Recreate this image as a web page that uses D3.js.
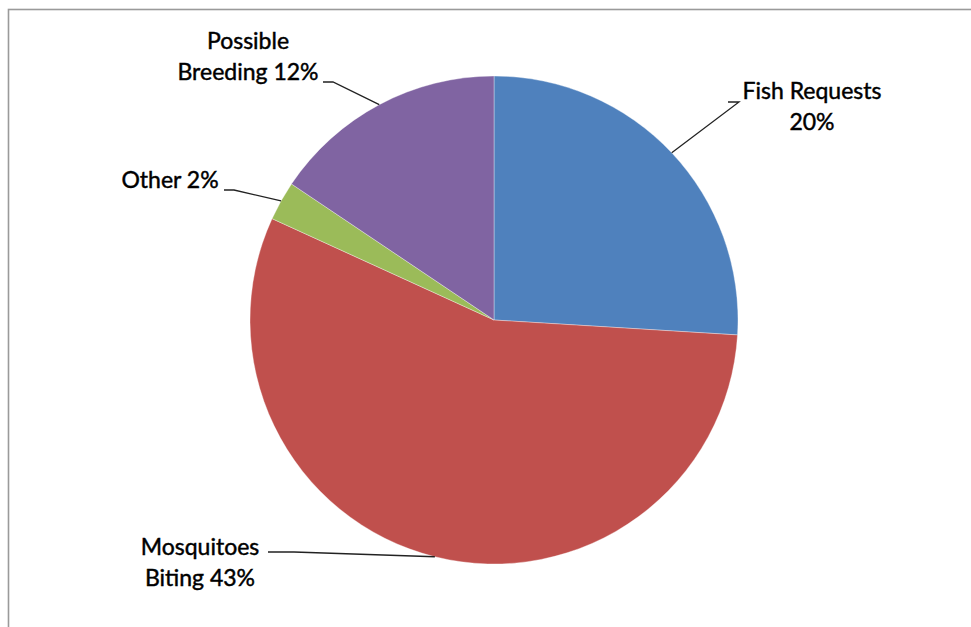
<!DOCTYPE html>
<html>
<head>
<meta charset="utf-8">
<script src="https://cdn.jsdelivr.net/npm/d3@7"></script>
<style>
  body { margin: 0; background: #fff; }
  text { font-family: Lato, "Open Sans", sans-serif; fill: #000; stroke: #000; stroke-width: 0.45px; }
</style>
</head>
<body>
<svg id="chart" width="971" height="627"></svg>
<script>
// values (the pie normalises them)
var categories = ['Fish Requests', 'Mosquitoes Biting', 'Other', 'Possible Breeding'];
var values = [20, 43, 2, 12];
var colors = ['#4f81bd', '#c0504d', '#9bbb59', '#8064a2'];
// label text, split in lines as in the picture
var labelLines = [
  ['Fish Requests', '20%'],
  ['Mosquitoes', 'Biting 43%'],
  ['Other 2%'],
  ['Possible', 'Breeding 12%']
];

var svg = d3.select('#chart');
var width = +svg.attr('width');
var height = +svg.attr('height');

var cx = 494, cy = 320, radius = 244;

// frame of the chart area
svg.append('rect')
  .attr('x', 8.5).attr('y', 9.5)
  .attr('width', width + 20).attr('height', height + 20)
  .attr('fill', '#fff')
  .attr('stroke', '#9a9a9a')
  .attr('stroke-width', 1.6);

var data = categories.map(function(c, i) {
  return {name: c, value: values[i], color: colors[i], lines: labelLines[i]};
});

var pie = d3.pie()
  .sort(null)
  .value(function(d) { return d.value; });

var arc = d3.arc().innerRadius(0).outerRadius(radius);

var arcs = pie(data);

var g = svg.append('g').attr('transform', 'translate(' + cx + ',' + cy + ')');

g.selectAll('.slice')
  .data(arcs)
  .enter().append('path')
  .attr('class', 'slice')
  .attr('d', arc)
  .attr('fill', function(d) { return d.data.color; })
  .attr('stroke', 'rgba(255,255,255,0.35)')
  .attr('stroke-width', 1);

// label placement: text anchor point (relative to pie centre), line-height,
// and the elbow of the leader line
var labelPos = [
  {tx: 318, ty: -221, elbow: [245, -218], end: [234, -218], anchor: 'middle'},
  {tx: -294, ty: 235, elbow: [-200, 232], end: [-226, 232], anchor: 'middle'},
  {tx: -324, ty: -132, elbow: [-260, -130], end: [-270, -130], anchor: 'middle'},
  {tx: -246, ty: -271, elbow: [-161, -238], end: [-171, -238], anchor: 'middle'}
];

var lineHeight = 31;

arcs.forEach(function(d, i) {
  var p = labelPos[i];
  var mid = (d.startAngle + d.endAngle) / 2;
  var edge = [radius * Math.sin(mid), -radius * Math.cos(mid)];

  g.append('polyline')
    .attr('points', [edge, p.elbow, p.end].map(function(pt) { return pt.join(','); }).join(' '))
    .attr('fill', 'none')
    .attr('stroke', '#222')
    .attr('stroke-width', 1.3);

  var t = g.append('text')
    .attr('text-anchor', p.anchor)
    .attr('font-size', 23);
  d.data.lines.forEach(function(line, j) {
    t.append('tspan')
      .attr('x', p.tx)
      .attr('y', p.ty + j * lineHeight)
      .text(line);
  });
});
</script>
</body>
</html>
